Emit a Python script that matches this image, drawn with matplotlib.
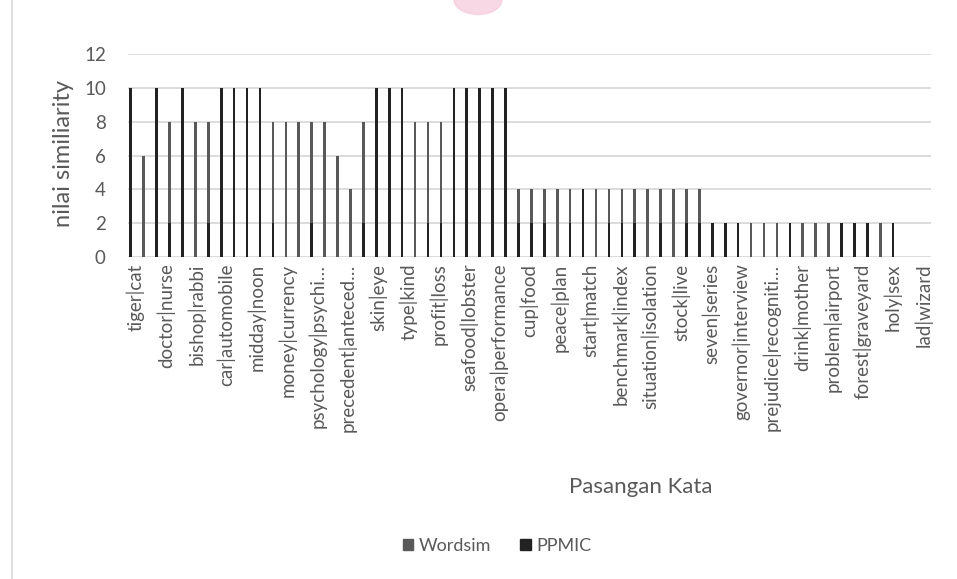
import numpy as np
import matplotlib.pyplot as plt
from matplotlib.patches import Patch, Ellipse
from matplotlib.lines import Line2D

plt.rcParams['font.family'] = ['Lato', 'DejaVu Sans']

# word pairs shown on the axis (every other category is labelled)
pairs = ["tiger|cat", "doctor|nurse", "bishop|rabbi", "car|automobile",
         "midday|noon", "money|currency", "psychology|psychi…",
         "precedent|anteced…", "skin|eye", "type|kind", "profit|loss",
         "seafood|lobster", "opera|performance", "cup|food", "peace|plan",
         "start|match", "benchmark|index", "situation|isolation",
         "stock|live", "seven|series", "governor|interview",
         "prejudice|recogniti…", "drink|mother", "problem|airport",
         "forest|graveyard", "holy|sex", "lad|wizard"]
n_categories = 53

# bar heights
wordsim = [8, 6, 8, 8, 8, 8, 8, 8, 8, 8,
           8, 8, 8, 8, 8, 8, 6, 4, 8, 8,
           8, 8, 8, 8, 8, 8, 8, 8, 8, 8,
           4, 4, 4, 4, 4, 4, 4, 4, 4, 4,
           4, 4, 4, 4, 4, 2, 2, 2, 2, 2,
           2, 2, 2, 2, 2, 2, 2, 2, 2, 2]
ppmic = [10, 0, 10, 2, 10, 0, 2, 10, 10, 10,
         10, 2, 0, 0, 2, 0, 0, 0, 2, 10,
         10, 10, 0, 2, 2, 10, 10, 10, 10, 10,
         2, 2, 2, 0, 2, 4, 0, 2, 2, 2,
         0, 2, 0, 2, 2, 2, 2, 2, 0, 0,
         0, 2, 0, 0, 0, 2, 2, 2, 0, 2]

c_wordsim = '#595959'
c_ppmic = '#222222'
c_text = '#595959'
c_grid = '#d9d9d9'

fig = plt.figure(figsize=(9.57, 5.79), dpi=100)
ax = fig.add_axes([0.1338, 0.5567, 0.8387, 0.3492])

x = np.arange(len(wordsim))
ax.bar(x, wordsim, width=0.2, color=c_wordsim, linewidth=0,
       antialiased=False, zorder=3)
ax.bar(x, ppmic, width=0.2, color=c_ppmic, linewidth=0,
       antialiased=False, zorder=4)
ax.set_xlim(-0.21, 61.9)
ax.set_ylim(0, 12)
ax.set_yticks(range(0, 13, 2))
ax.yaxis.grid(True, color=c_grid, linewidth=1.3, zorder=0)
ax.set_axisbelow(True)
ax.tick_params(axis='y', length=0, pad=16, labelsize=13.5, labelcolor=c_text)
ax.set_xticks([])
for s in ax.spines.values():
    s.set_visible(False)

ax2 = ax.twiny()
ax2.set_xlim(-0.5, n_categories - 0.5)
ax2.xaxis.set_ticks_position('bottom')
ax2.set_xticks(np.arange(0, n_categories, 2))
ax2.set_xticklabels(pairs, rotation=90, fontsize=13.5, color=c_text)
ax2.tick_params(axis='x', length=0, pad=5)
for s in ax2.spines.values():
    s.set_visible(False)

fig.text(63 / 957, 1 - 153 / 579, "nilai similiarity", rotation=90,
         ha='center', va='center', fontsize=17, color=c_text)
fig.text(641 / 957, 1 - 487 / 579, "Pasangan Kata",
         ha='center', va='center', fontsize=16, color=c_text)

handles = [Patch(color=c_wordsim, label='Wordsim'),
           Patch(color=c_ppmic, label='PPMIC')]
fig.legend(handles=handles, loc='center', bbox_to_anchor=(497 / 957, 1 - 546 / 579),
           ncol=2, frameon=False, fontsize=13, labelcolor=c_text,
           handlelength=0.6, handleheight=0.6, handletextpad=0.3, columnspacing=1.6)

fig.add_artist(Line2D([12 / 957, 12 / 957], [0, 1], color=c_grid, linewidth=1.2))
fig.add_artist(Ellipse((478 / 957, 1.0), 0.05, 0.05, color='#f7c8dc', alpha=0.7))

fig.savefig('out.png', dpi=100)
